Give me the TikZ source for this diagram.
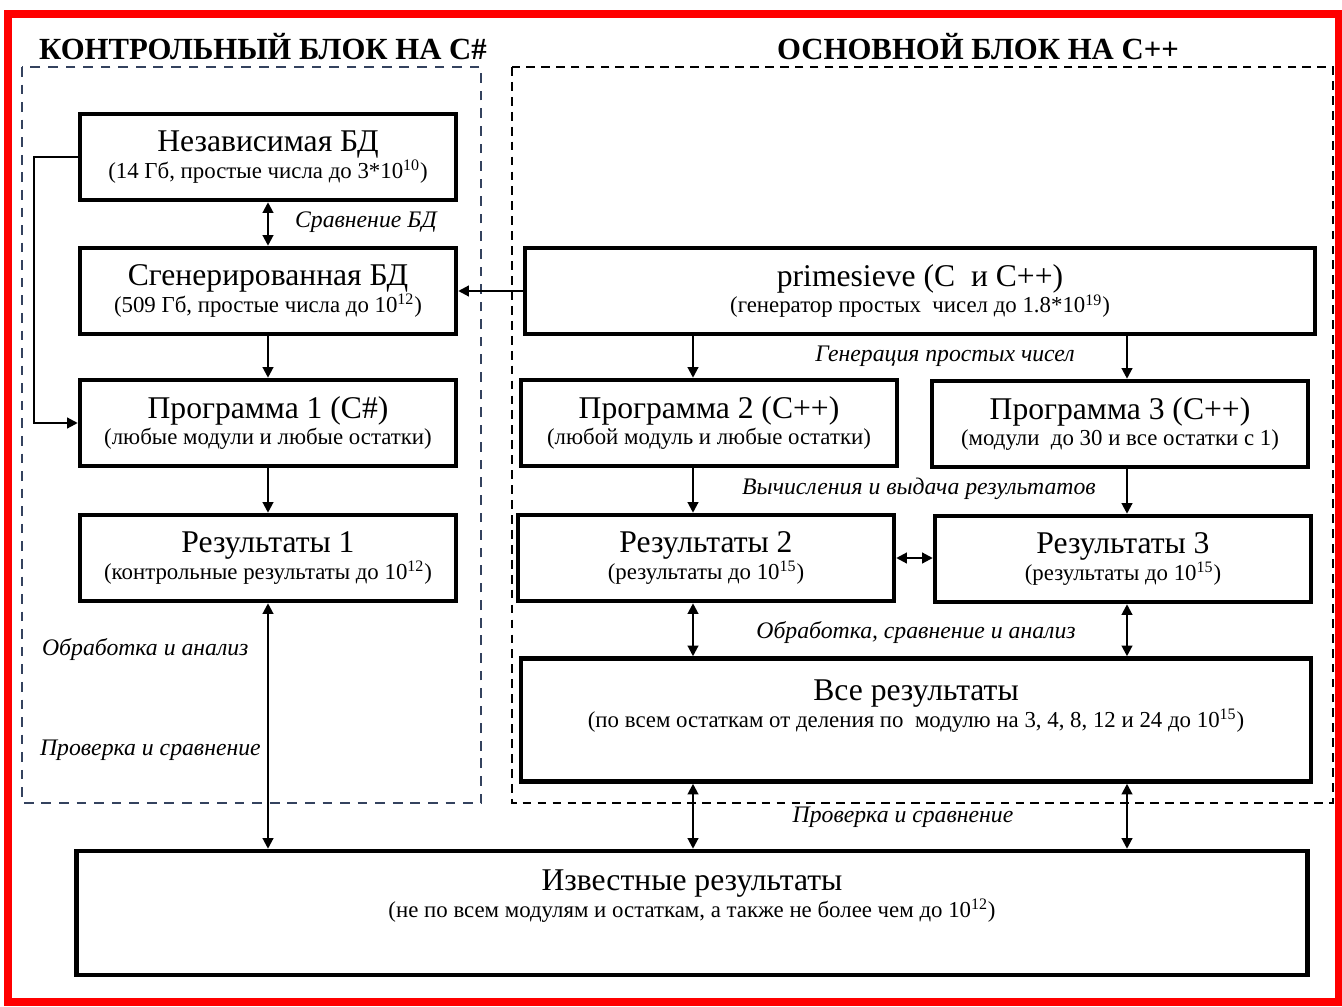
\documentclass[tikz,border=0pt]{standalone}
\usepackage{fontspec}
\setmainfont{Liberation Serif}[BoldFont={Liberation Serif Bold}, ItalicFont={Liberation Serif Italic}]
\usetikzlibrary{arrows.meta}
\definecolor{frameblue}{HTML}{34425E}
\newcommand{\boxsub}{\fontsize{13}{15}\selectfont}

\begin{document}
\begin{tikzpicture}[x=0.02cm, y=-0.02cm,
    block/.style ={draw, line width=2.6pt, minimum width=7.52cm, minimum height=1.72cm,
                   align=center, inner sep=2pt, font=\fontsize{18}{20}\selectfont},
    wide/.style ={block, minimum width=15.8cm},
    note/.style ={inner sep=1pt, font=\fontsize{13.5}{15}\selectfont\itshape},
    heading/.style ={inner sep=1pt, font=\fontsize{17.5}{19}\selectfont\bfseries},
    link/.style ={line width=1.2pt, -{Triangle[length=6pt,width=6pt]}},
    twoway/.style ={line width=1.2pt, {Triangle[length=6pt,width=6pt]}-{Triangle[length=6pt,width=6pt]}}]
   \useasboundingbox (0,0) rectangle (1342,1007);
   \draw[red, line width=4pt] (8,14) rectangle (1338,1002);

   % frames of the two blocks
   \draw[frameblue, line width=1.5pt, dash pattern=on 5.5pt off 4.5pt] (22,67) rectangle (481,803);
   \draw[line width=1.5pt, dash pattern=on 5pt off 3.5pt] (512,67) rectangle (1333,803);
   \node[heading] (headc) at (263,47) {КОНТРОЛЬНЫЙ БЛОК НА C\#};
   \node[heading] (headm) at (978,47) {ОСНОВНОЙ БЛОК НА C++};

   % control block
   \node[block] (indep) at (268,157) {Независимая БД\\[-5pt]{\boxsub (14 Гб, простые числа до 3*10\textsuperscript{10})}};
   \node[block] (gen)   at (268,291) {Сгенерированная БД\\[-5pt]{\boxsub (509 Гб, простые числа до 10\textsuperscript{12})}};
   \node[block] (prog1) at (268,423) {Программа 1 (C\#)\\[-5pt]{\boxsub (любые модули и любые остатки)}};
   \node[block] (res1)  at (268,558) {Результаты 1\\[-5pt]{\boxsub (контрольные результаты до 10\textsuperscript{12})}};

   % main block
   \node[wide]  (sieve) at (920,291) {primesieve (C\ \ и C++)\\[-5pt]{\boxsub (генератор простых\ \ чисел до 1.8*10\textsuperscript{19})}};
   \node[block] (prog2) at (709,423) {Программа 2 (C++)\\[-5pt]{\boxsub (любой модуль и любые остатки)}};
   \node[block] (prog3) at (1120,424) {Программа 3 (C++)\\[-5pt]{\boxsub (модули\ \ до 30 и все остатки с 1)}};
   \node[block] (res2)  at (706,558) {Результаты 2\\[-5pt]{\boxsub (результаты до 10\textsuperscript{15})}};
   \node[block] (res3)  at (1123,559) {Результаты 3\\[-5pt]{\boxsub (результаты до 10\textsuperscript{15})}};
   \node[wide, minimum height=2.46cm] (all) at (916,720) {};
   \node[align=center, font=\fontsize{18}{20}\selectfont] (allt) at (916,706)
        {Все результаты\\[-5pt]{\boxsub (по всем остаткам от деления по\ \ модулю на 3, 4, 8, 12 и 24 до 10\textsuperscript{15})}};

   % known results
   \node[block, minimum width=24.62cm, minimum height=2.48cm] (known) at (692,913) {};
   \node[align=center, font=\fontsize{18}{20}\selectfont] (knownt) at (692,896)
        {Известные результаты\\[-5pt]{\boxsub (не по всем модулям и остаткам, а также не более чем до 10\textsuperscript{12})}};

   \coordinate (xl) at (693,0);
   \coordinate (xr) at (1127,0);

   \draw[twoway] (indep) to (gen);
   \draw[link] (sieve.west) to (gen.east);
   \draw[link] (gen) to (prog1);
   \draw[link] (indep.west) -- ++(-44,0) |- (prog1.west);
   \draw[link] (prog1) to (res1);
   \draw[twoway] (res1.south) to (res1.south |- known.north);

   \draw[link] (xl |- sieve.south) to (xl |- prog2.north);
   \draw[link] (xr |- sieve.south) to (xr |- prog3.north);
   \draw[link] (xl |- prog2.south) to (xl |- res2.north);
   \draw[link] (xr |- prog3.south) to (xr |- res3.north);
   \draw[twoway] (res2.east) to (res2.east -| res3.west);
   \draw[twoway] (xl |- res2.south) to (xl |- all.north);
   \draw[twoway] (xr |- res3.south) to (xr |- all.north);
   \draw[twoway] (xl |- all.south) to (xl |- known.north);
   \draw[twoway] (xr |- all.south) to (xr |- known.north);

   % labels on the connectors
   \node[note, anchor=west] (n1) at (293,222) {Сравнение БД};
   \node[note] (n2) at (945,356) {Генерация простых чисел};
   \node[note] (n3) at (919,489) {Вычисления и выдача результатов};
   \node[note] (n4) at (916,633) {Обработка, сравнение и анализ};
   \node[note] (n5) at (903,817) {Проверка и сравнение};
   \node[note, anchor=west] (n6) at (40,650) {Обработка и анализ};
   \node[note, anchor=west] (n7) at (38,750) {Проверка и сравнение};
 \end{tikzpicture}
\end{document}
